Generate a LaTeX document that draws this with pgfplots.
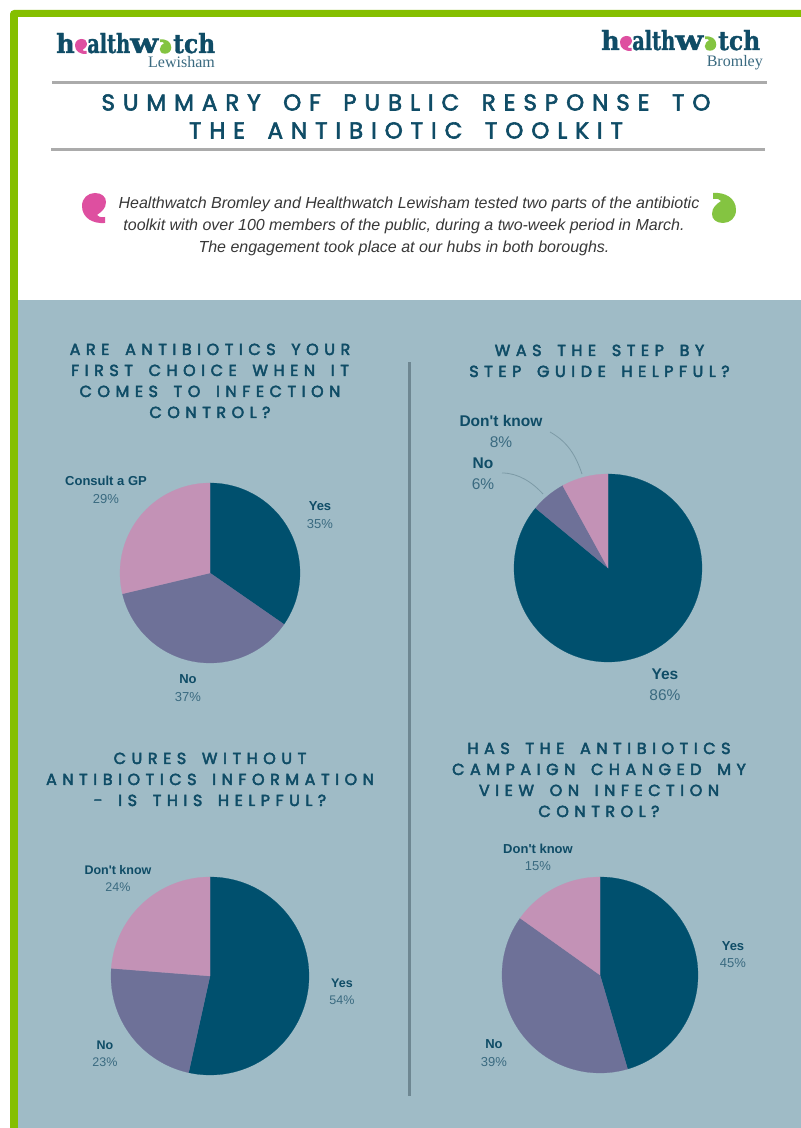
\documentclass[border=0pt]{standalone}
\usepackage{graphicx}
\usepackage{fontspec}
\usepackage{pgfplots}
\pgfplotsset{compat=1.18}
\setmainfont{Liberation Sans}
\newfontfamily\logofont[FakeBold=1.2]{DejaVu Serif Condensed}
\newfontfamily\subfont{Liberation Serif}
\newfontfamily\headfont[LetterSpace=34.5,WordSpace=1.6,FakeBold=2.5]{Poppins}
\newfontfamily\secfont[LetterSpace=34.5,WordSpace=1.6,FakeBold=3]{Poppins}

\definecolor{panel}{HTML}{9FBBC6}
\definecolor{frame}{HTML}{85BF00}
\definecolor{rulegrey}{HTML}{ABABAB}
\definecolor{divider}{HTML}{6E8792}
\definecolor{ink}{HTML}{0F4C66}
\definecolor{inksoft}{HTML}{3A6A80}
\definecolor{leader}{HTML}{7C9AA6}
\definecolor{sliceA}{HTML}{00506E}
\definecolor{sliceB}{HTML}{6E7198}
\definecolor{sliceC}{HTML}{C392B6}
\definecolor{logopink}{HTML}{DE4FA0}
\definecolor{logogreen}{HTML}{84C441}

% one wedge: from-angle, to-angle (clockwise from 12 o'clock), colour
\newcommand{\pieslice}[3]{%
  \pgfmathtruncatemacro\nseg{ceil((#2-#1)/2)+1}%
  \gdef\wedgepts{(0,0)}%
  \foreach \k in {0,...,\nseg}{%
    \pgfmathsetmacro\ang{#1+(#2-#1)*(\k/\nseg)}%
    \pgfmathsetmacro\ptx{sin(\ang)}%
    \pgfmathsetmacro\pty{cos(\ang)}%
    \xdef\wedgepts{\wedgepts (\ptx,\pty)}%
  }%
  \edef\doslice{\noexpand\addplot[fill=#3,draw=#3,line width=0.2pt] coordinates {\wedgepts} --cycle;}%
  \doslice
}
% a pie of three shares, scaled by their sum
\newcommand{\threepie}[3]{%
  \pgfmathsetmacro\sumall{#1+#2+#3}%
  \pgfmathsetmacro\angA{360*(#1/\sumall)}%
  \pgfmathsetmacro\angB{360*((#1+#2)/\sumall)}%
  \pieslice{0}{\angA}{sliceA}%
  \pieslice{\angA}{\angB}{sliceB}%
  \pieslice{\angB}{360}{sliceC}%
}
\pgfplotsset{pieaxis/.style={
  anchor=center, scale only axis, hide axis, clip=false,
  xmin=-1, xmax=1, ymin=-1, ymax=1, enlargelimits=false}}

% speech mark: scale, centre y, centre x, rotation, colour
\newcommand{\speechmark}[5]{%
  \fill[#5,shift={(#3,#2)},rotate=#4,scale=#1]
    (2,-15) .. controls (9,-15) and (13,-11) .. (13,-6)
    .. controls (13,1) and (8,4) .. (4,7)
    .. controls (5,9) and (8,9.5) .. (12,9)
    -- (12,15) .. controls (0,16) and (-11,10) .. (-11,-2)
    .. controls (-11,-10) and (-5,-15) .. (2,-15) -- cycle;}

% logo: left x, baseline y, place name, right-hand x and baseline of the name
\newcommand{\hwlogo}[5]{%
  \begin{scope}[shift={(#1,#2)}]
    \node[anchor=base west,inner sep=0,text=ink] at (0,0) {\resizebox{18.5pt}{20pt}{\logofont\bfseries h}};
    \speechmark{0.5}{-6.5}{24.5}{0}{logopink}
    \node[anchor=base west,inner sep=0,text=ink] at (31,0) {\resizebox{43pt}{20pt}{\logofont\bfseries alth}};
    \node[anchor=base west,inner sep=0,text=ink] at (74,0) {\resizebox{28pt}{14.5pt}{\logofont\bfseries w}};
    \speechmark{0.48}{-6.5}{110}{180}{logogreen}
    \node[anchor=base west,inner sep=0,text=ink] at (117,0) {\resizebox{42pt}{20pt}{\logofont\bfseries tch}};
  \end{scope}
  \node[anchor=base east,inner sep=0,text=inksoft] at (#4,#5) {\fontsize{16}{16}\subfont #3};
}
% centred heading line and pie label
\newcommand{\secline}[3]{\node[anchor=base,inner sep=0,text=ink] at (#1,#2+1) {\fontsize{16}{16}\secfont #3};}
\newcommand{\pielabel}[5]{%
  \node[text=ink,inner sep=0] at (#2,#3) {\fontsize{#1}{#1}\selectfont\bfseries #4};
  \node[text=inksoft,inner sep=0] at (#2,#3+#1*1.35) {\fontsize{#1}{#1}\selectfont #5};
}

\begin{document}
\begin{tikzpicture}
\path[use as bounding box] (0,0) rectangle (801pt,1128pt);
\begin{scope}[x=1pt,y=-1pt,yshift=1128pt]
  \fill[white] (0,0) rectangle (801,1128);
  \fill[frame,rounded corners=4] (10,1140) -- (10,10) -- (815,10) -- (815,1140) -- cycle;
  \fill[white] (18,17) rectangle (801,1128);
  \fill[panel] (18,300) rectangle (801,1128);

  \hwlogo{56}{53}{Lewisham}{215}{68}
  \hwlogo{601}{50}{Bromley}{763}{66.5}

  \fill[rulegrey] (52,81.5) rectangle (767,84.5);
  \fill[rulegrey] (51,148) rectangle (765,151);
  \node[anchor=base,inner sep=0,text=ink] at (406,110.5) {\fontsize{23}{23}\headfont SUMMARY OF PUBLIC RESPONSE TO};
  \node[anchor=base,inner sep=0,text=ink] at (406,138.5) {\fontsize{23}{23}\headfont THE ANTIBIOTIC TOOLKIT};

  \speechmark{1}{208}{93}{0}{logopink}
  \speechmark{1}{208}{725}{180}{logogreen}
  \begin{scope}[text=black!78]
    \node[anchor=base,inner sep=0] at (409,208.5) {\fontsize{16}{16}\selectfont\itshape Healthwatch Bromley and Healthwatch Lewisham tested two parts of the antibiotic};
    \node[anchor=base,inner sep=0] at (404,231) {\fontsize{16}{16}\selectfont\itshape toolkit with over 100 members of the public, during a two-week period in March.};
    \node[anchor=base,inner sep=0] at (404,253) {\fontsize{16}{16}\selectfont\itshape The engagement took place at our hubs in both boroughs.};
  \end{scope}

  \fill[divider] (408,362) rectangle (410.5,1096);

  \secline{210}{354}{ARE ANTIBIOTICS YOUR}
  \secline{210}{375}{FIRST CHOICE WHEN IT}
  \secline{210}{396}{COMES TO INFECTION}
  \secline{210}{417}{CONTROL?}
  \secline{599.5}{355}{WAS THE STEP BY}
  \secline{599.5}{376}{STEP GUIDE HELPFUL?}
  \secline{210}{763}{CURES WITHOUT}
  \secline{210}{784}{ANTIBIOTICS INFORMATION}
  \secline{210}{805}{- IS THIS HELPFUL?}
  \secline{599}{753}{HAS THE ANTIBIOTICS}
  \secline{599}{774}{CAMPAIGN CHANGED MY}
  \secline{599}{795}{VIEW ON INFECTION}
  \secline{599}{816}{CONTROL?}
\end{scope}

% the four pies; centres and radii in page units
\begin{axis}[pieaxis, at={(210pt,555pt)}, width=180pt, height=180pt]
  \threepie{35}{37}{29}
\end{axis}
\begin{axis}[pieaxis, at={(608pt,560pt)}, width=188pt, height=188pt]
  \threepie{86}{6}{8}
\end{axis}
\begin{axis}[pieaxis, at={(210pt,152pt)}, width=198pt, height=198pt]
  \threepie{54}{23}{24}
\end{axis}
\begin{axis}[pieaxis, at={(600pt,153pt)}, width=196pt, height=196pt]
  \threepie{45}{39}{15}
\end{axis}

\begin{scope}[x=1pt,y=-1pt,yshift=1128pt]
  \pielabel{13}{106}{481}{Consult a GP}{29\%}
  \pielabel{13}{320}{506}{Yes}{35\%}
  \pielabel{13}{188}{679}{No}{37\%}

  \pielabel{15.5}{501}{421}{Don\textquotesingle t know}{8\%}
  \pielabel{15.5}{483}{463}{No}{6\%}
  \pielabel{15.5}{665}{674}{Yes}{86\%}
  \draw[leader,line width=0.8pt] (550,432) .. controls (568,442) and (576,456) .. (582,474);
  \draw[leader,line width=0.8pt] (502,473) .. controls (518,473) and (532,482) .. (543,494);

  \pielabel{12.5}{118}{870}{Don\textquotesingle t know}{24\%}
  \pielabel{12.5}{342}{983}{Yes}{54\%}
  \pielabel{12.5}{105}{1045}{No}{23\%}

  \pielabel{13}{538}{849}{Don\textquotesingle t know}{15\%}
  \pielabel{13}{733}{946}{Yes}{45\%}
  \pielabel{13}{494}{1044}{No}{39\%}
\end{scope}
\end{tikzpicture}
\end{document}
